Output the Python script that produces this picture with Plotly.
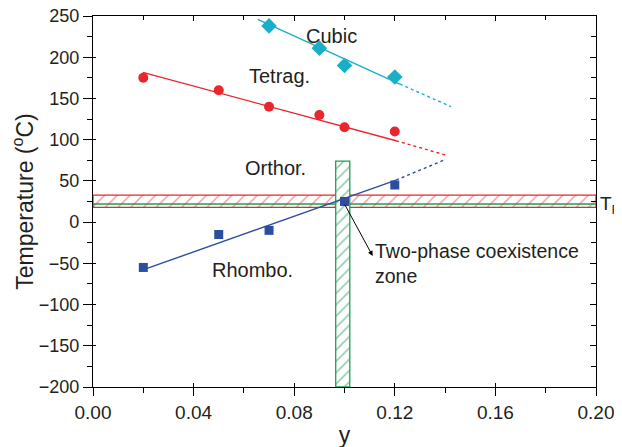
import plotly.graph_objects as go

# ---- data ----
cubic_x = [0.07, 0.09, 0.10, 0.12]
cubic_y = [238, 211, 190, 176]
tetrag_x = [0.02, 0.05, 0.07, 0.09, 0.10, 0.12]
tetrag_y = [175, 160, 140, 130, 115, 110]
rhombo_x = [0.02, 0.05, 0.07, 0.10, 0.12]
rhombo_y = [-55, -15, -10, 25, 45]

# guide lines (solid part, then dotted extrapolation)
cubic_line_x = [0.0655, 0.122]
cubic_line_y = [246, 167.5]
cubic_ext_x = [0.122, 0.1424]
cubic_ext_y = [167.5, 140]
tetrag_line_x = [0.0198, 0.1205]
tetrag_line_y = [181.7, 98.7]
tetrag_ext_x = [0.1205, 0.1406]
tetrag_ext_y = [98.7, 81]
rhombo_line_x = [0.0198, 0.1205]
rhombo_line_y = [-58, 51]
rhombo_ext_x = [0.1205, 0.1402]
rhombo_ext_y = [51, 76]

# coexistence zones
tr_band_y = [17.8, 32.8]      # horizontal band (T_R)
tr_line_y = 22
band_x = [0.0, 0.2]
comp_band_x = [0.0965, 0.1021]  # vertical band
comp_band_y = [-200, 74]

x_ticks = [0.00, 0.04, 0.08, 0.12, 0.16, 0.20]
y_ticks = [-200, -150, -100, -50, 0, 50, 100, 150, 200, 250]

RED = "#e8262b"
CYAN = "#1aafc8"
BLUE = "#2d4da0"
GREEN = "#1f9e50"
FONT = "Liberation Sans, Arial, sans-serif"

fig = go.Figure()

# horizontal band
hx = [band_x[0], band_x[1], band_x[1], band_x[0], band_x[0]]
hy = [tr_band_y[0], tr_band_y[0], tr_band_y[1], tr_band_y[1], tr_band_y[0]]
fig.add_trace(go.Scatter(x=hx, y=hy, mode="lines", fill="toself",
                         fillcolor="rgba(255,255,255,0)",
                         fillpattern=dict(shape="/", fgcolor=RED, size=9, solidity=0.15, bgcolor="white"),
                         line=dict(color=RED, width=1.3), hoverinfo="skip"))
fig.add_trace(go.Scatter(x=band_x, y=[tr_line_y, tr_line_y], mode="lines",
                         line=dict(color=GREEN, width=1.5), hoverinfo="skip"))

# vertical band
vx = [comp_band_x[0], comp_band_x[1], comp_band_x[1], comp_band_x[0], comp_band_x[0]]
vy = [comp_band_y[0], comp_band_y[0], comp_band_y[1], comp_band_y[1], comp_band_y[0]]
fig.add_trace(go.Scatter(x=vx, y=vy, mode="lines", fill="toself",
                         fillcolor="rgba(255,255,255,0)",
                         fillpattern=dict(shape="/", fgcolor=GREEN, size=8, solidity=0.2, bgcolor="white"),
                         line=dict(color=GREEN, width=1.3), hoverinfo="skip"))

# lines
for lx, ly, ex, ey, c in [
    (cubic_line_x, cubic_line_y, cubic_ext_x, cubic_ext_y, CYAN),
    (tetrag_line_x, tetrag_line_y, tetrag_ext_x, tetrag_ext_y, RED),
    (rhombo_line_x, rhombo_line_y, rhombo_ext_x, rhombo_ext_y, BLUE),
]:
    fig.add_trace(go.Scatter(x=lx, y=ly, mode="lines", line=dict(color=c, width=1.4)))
    fig.add_trace(go.Scatter(x=ex, y=ey, mode="lines", line=dict(color=c, width=1.4, dash="dot")))

# markers
fig.add_trace(go.Scatter(x=cubic_x, y=cubic_y, mode="markers",
                         marker=dict(symbol="diamond", size=12, color=CYAN)))
fig.add_trace(go.Scatter(x=tetrag_x, y=tetrag_y, mode="markers",
                         marker=dict(symbol="circle", size=10, color=RED)))
fig.add_trace(go.Scatter(x=rhombo_x, y=rhombo_y, mode="markers",
                         marker=dict(symbol="square", size=9, color=BLUE)))

# invisible traces to activate the mirror/inside-tick axes
fig.add_trace(go.Scatter(x=band_x, y=[0, 0], xaxis="x2", yaxis="y2", mode="lines",
                         line=dict(width=0), hoverinfo="skip", showlegend=False))
fig.add_trace(go.Scatter(x=band_x, y=[0, 0], xaxis="x3", yaxis="y3", mode="lines",
                         line=dict(width=0), hoverinfo="skip", showlegend=False))

axis_common = dict(showgrid=False, zeroline=False, showline=True, linecolor="black",
                   linewidth=1.3, tickwidth=1.2, tickcolor="black", automargin=False)

fig.update_layout(
    width=622, height=447,
    margin=dict(l=85, r=34, t=8, b=68),
    paper_bgcolor="white", plot_bgcolor="white",
    showlegend=False,
    font=dict(family=FONT, size=19, color="#231f20"),
    xaxis=dict(range=[0, 0.2], tickvals=x_ticks, tickformat=".2f", ticks="outside", ticklen=8,
               minor=dict(dtick=0.02, ticks="outside", ticklen=5, tickcolor="black"),
               ticklabeloverflow="allow",
               title=dict(text="y", standoff=4), tickfont=dict(size=19), **axis_common),
    yaxis=dict(range=[-200, 250], tickvals=y_ticks, ticks="outside", ticklen=9,
               minor=dict(dtick=25, ticks="outside", ticklen=5, tickcolor="black"),
               ticklabeloverflow="allow",
               title=dict(text="Temperature (<sup>o</sup>C)", standoff=4), tickfont=dict(size=18),
               **axis_common),
    xaxis2=dict(range=[0, 0.2], overlaying="x", side="top", tickvals=x_ticks, showticklabels=False,
                ticks="inside", ticklen=5, minor=dict(dtick=0.02, ticks="inside", ticklen=4, tickcolor="black"),
                **axis_common),
    yaxis2=dict(range=[-200, 250], overlaying="y", side="right", tickvals=y_ticks, showticklabels=False,
                ticks="inside", ticklen=6, minor=dict(dtick=25, ticks="inside", ticklen=5, tickcolor="black"),
                **axis_common),
    xaxis3=dict(range=[0, 0.2], overlaying="x", side="bottom", tickvals=x_ticks, showticklabels=False,
                ticks="inside", ticklen=4, **axis_common),
    yaxis3=dict(range=[-200, 250], overlaying="y", side="left", tickvals=y_ticks, showticklabels=False,
                ticks="inside", ticklen=3, **axis_common),
)

labels = [("Cubic", 0.095, 226), ("Tetrag.", 0.074, 177), ("Orthor.", 0.0724, 66), ("Rhombo.", 0.0636, -58)]
for t, x, y in labels:
    fig.add_annotation(x=x, y=y, text=t, showarrow=False, font=dict(size=20))

fig.add_annotation(x=0.1112, y=-41, ax=0.0998, ay=23, axref="x", ayref="y", text="",
                   showarrow=True, arrowhead=2, arrowsize=1, arrowwidth=1, arrowcolor="black")
fig.add_annotation(x=0.1113, y=-50, text="Two-phase coexistence<br>zone", showarrow=False,
                   xanchor="left", yanchor="middle", align="left", font=dict(size=19.5))
fig.add_annotation(xref="paper", x=1, xshift=2, y=25, yshift=-3, text="T<sub>R</sub>", showarrow=False,
                   xanchor="left", yanchor="middle", font=dict(size=19))

fig.write_html("out.html")
